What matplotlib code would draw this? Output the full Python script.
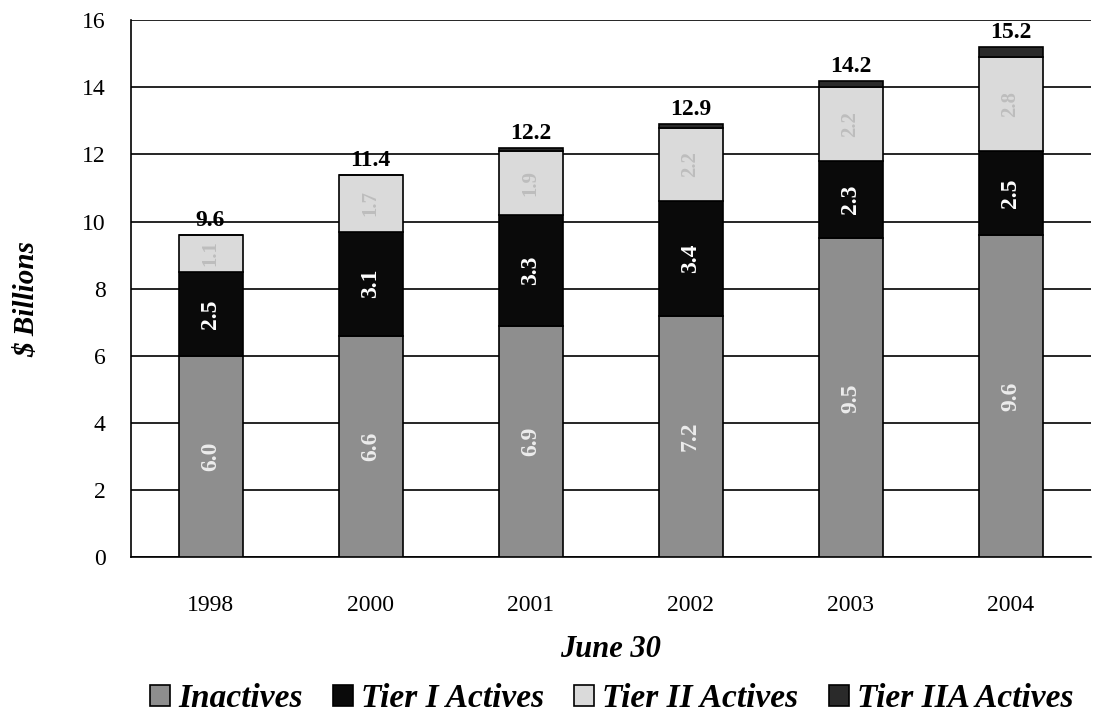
import matplotlib
matplotlib.use("Agg")
import matplotlib.pyplot as plt
import numpy as np

years = ["1998", "2000", "2001", "2002", "2003", "2004"]
inactives = [6.0, 6.6, 6.9, 7.2, 9.5, 9.6]
tier1 = [2.5, 3.1, 3.3, 3.4, 2.3, 2.5]
tier2 = [1.1, 1.7, 1.9, 2.2, 2.2, 2.8]
tier2a = [0.0, 0.0, 0.1, 0.1, 0.2, 0.3]
totals = ["9.6", "11.4", "12.2", "12.9", "14.2", "15.2"]
yticks = [0, 2, 4, 6, 8, 10, 12, 14, 16]

plt.rcParams['font.family'] = ['Liberation Serif', 'DejaVu Serif']

fig = plt.figure(figsize=(11.06, 7.19), dpi=100)
ax = fig.add_axes([0.118, 0.225, 0.868, 0.747])

x = np.arange(len(years))
w = 0.4
b0 = np.zeros(len(years))
series = [
    ("Inactives", inactives, "#8e8e8e"),
    ("Tier I Actives", tier1, "#0a0a0a"),
    ("Tier II Actives", tier2, "#dadada"),
    ("Tier IIA Actives", tier2a, "#2a2a2a"),
]
for name, vals, col in series:
    vals = np.array(vals)
    ax.bar(x, vals, w, bottom=b0, color=col, edgecolor="black", linewidth=1.2,
           label=name, zorder=3)
    if name in ("Inactives", "Tier I Actives"):
        tc = "#ececec" if name == "Inactives" else "white"
        for xi, v, b in zip(x, vals, b0):
            ax.text(xi, b + v / 2, f"{v:.1f}", rotation=90, ha="center", va="center",
                    color=tc, fontsize=17, fontweight="bold", zorder=4)
    elif name == "Tier II Actives":
        for xi, v, b in zip(x, vals, b0):
            ax.text(xi, b + v / 2, f"{v:.1f}", rotation=90, ha="center", va="center",
                    color="#bdbdbd", fontsize=15, fontweight="bold", zorder=4)
    b0 = b0 + vals

for xi, tot, t in zip(x, b0, totals):
    ax.text(xi, tot + 0.12, t, ha="center", va="bottom", fontsize=17,
            fontweight="bold", zorder=4)

ax.set_ylim(0, 16)
ax.set_xlim(-0.5, len(years) - 0.5)
ax.set_yticks(yticks)
ax.set_xticks(x)
ax.set_xticklabels(years)
ax.tick_params(axis="both", labelsize=17, length=0)
ax.tick_params(axis="x", pad=27)
ax.tick_params(axis="y", pad=18)
ax.yaxis.grid(True, color="black", linewidth=1.2, zorder=0)
ax.set_axisbelow(True)
for s in ["top", "right"]:
    ax.spines[s].set_visible(False)
ax.spines["left"].set_linewidth(1.2)
ax.spines["bottom"].set_linewidth(1.2)

ax.set_ylabel(r"\$ Billions", fontsize=21, fontweight="bold", fontstyle="italic")
ax.yaxis.set_label_coords(-0.094, 0.48)
ax.set_xlabel("June 30", fontsize=22, fontweight="bold", fontstyle="italic")
ax.xaxis.set_label_coords(0.5, -0.145)

handles, labels = ax.get_legend_handles_labels()
fig.legend(handles, labels, loc="center", bbox_to_anchor=(0.553, 0.028), ncol=4,
           frameon=False, prop={"size": 24, "weight": "bold", "style": "italic"},
           handlelength=0.6, handleheight=0.6, handletextpad=0.25, columnspacing=0.9,
           borderpad=0.1)

fig.savefig("out.png", dpi=100)
